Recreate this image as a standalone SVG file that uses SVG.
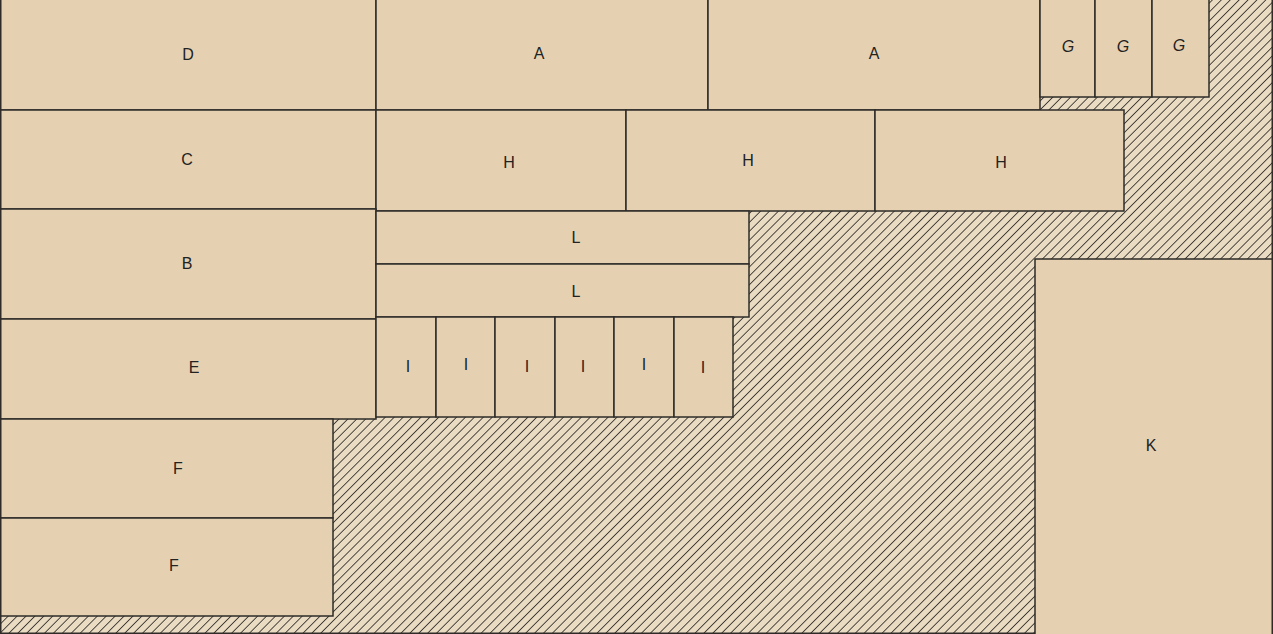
<svg xmlns="http://www.w3.org/2000/svg" width="1273" height="634" viewBox="0 0 1273 634">
<defs>
<pattern id="hatch" patternUnits="userSpaceOnUse" width="6.3" height="6.3" patternTransform="rotate(45)">
<rect width="6.3" height="6.3" fill="#eadcc3"/>
<line x1="0" y1="0" x2="0" y2="6.3" stroke="#26231f" stroke-width="1.6"/>
</pattern>
</defs>
<style>
.n rect{fill:#e5d1b1;stroke:#2e2b28;stroke-width:1.5}
.n text{font-family:"Liberation Sans",Arial,sans-serif;font-size:16px;fill:#222;text-anchor:middle;dominant-baseline:central}
</style>
<rect x="0.75" y="-2" width="1271.5" height="635.25" fill="url(#hatch)" stroke="#2e2b28" stroke-width="1.5"/>
<g id="D" class="n"><rect x="0.75" y="-2" width="375.25" height="112"/><text x="188" y="54">D</text></g>
<g id="A1" class="n"><rect x="376" y="-2" width="332" height="112"/><text x="539" y="53">A</text></g>
<g id="A2" class="n"><rect x="708" y="-2" width="332" height="112"/><text x="874" y="53">A</text></g>
<g id="G1" class="n"><rect x="1040" y="-2" width="55" height="99"/><text x="1068" y="46" font-style="italic">G</text></g>
<g id="G2" class="n"><rect x="1095" y="-2" width="57" height="99"/><text x="1123" y="46" font-style="italic">G</text></g>
<g id="G3" class="n"><rect x="1152" y="-2" width="57" height="99"/><text x="1179" y="45" font-style="italic">G</text></g>
<g id="C" class="n"><rect x="0.75" y="110" width="375.25" height="99"/><text x="187" y="159">C</text></g>
<g id="H1" class="n"><rect x="376" y="110" width="250" height="101"/><text x="509" y="162">H</text></g>
<g id="H2" class="n"><rect x="626" y="110" width="249" height="101"/><text x="748" y="160">H</text></g>
<g id="H3" class="n"><rect x="875" y="110" width="249" height="101"/><text x="1001" y="162">H</text></g>
<g id="B" class="n"><rect x="0.75" y="209" width="375.25" height="110"/><text x="187" y="263">B</text></g>
<g id="L1" class="n"><rect x="376" y="211" width="373" height="53"/><text x="576" y="237">L</text></g>
<g id="L2" class="n"><rect x="376" y="264" width="373" height="53"/><text x="576" y="291">L</text></g>
<g id="E" class="n"><rect x="0.75" y="319" width="375.25" height="100"/><text x="194" y="367">E</text></g>
<g id="I1" class="n"><rect x="376" y="317" width="60" height="100"/><text x="408" y="366">I</text></g>
<g id="I2" class="n"><rect x="436" y="317" width="59" height="100"/><text x="466" y="364">I</text></g>
<g id="I3" class="n"><rect x="495" y="317" width="60" height="100"/><text x="527" y="366">I</text></g>
<g id="I4" class="n"><rect x="555" y="317" width="59" height="100"/><text x="583" y="366">I</text></g>
<g id="I5" class="n"><rect x="614" y="317" width="60" height="100"/><text x="644" y="364">I</text></g>
<g id="I6" class="n"><rect x="674" y="317" width="59" height="100"/><text x="703" y="367">I</text></g>
<g id="F1" class="n"><rect x="0.75" y="419" width="332.25" height="99"/><text x="178" y="468">F</text></g>
<g id="F2" class="n"><rect x="0.75" y="518" width="332.25" height="98"/><text x="174" y="565">F</text></g>
<g id="K" class="n"><rect x="1035" y="259" width="237.25" height="376"/><text x="1151" y="445">K</text></g>
<g id="connectors"></g>
</svg>
